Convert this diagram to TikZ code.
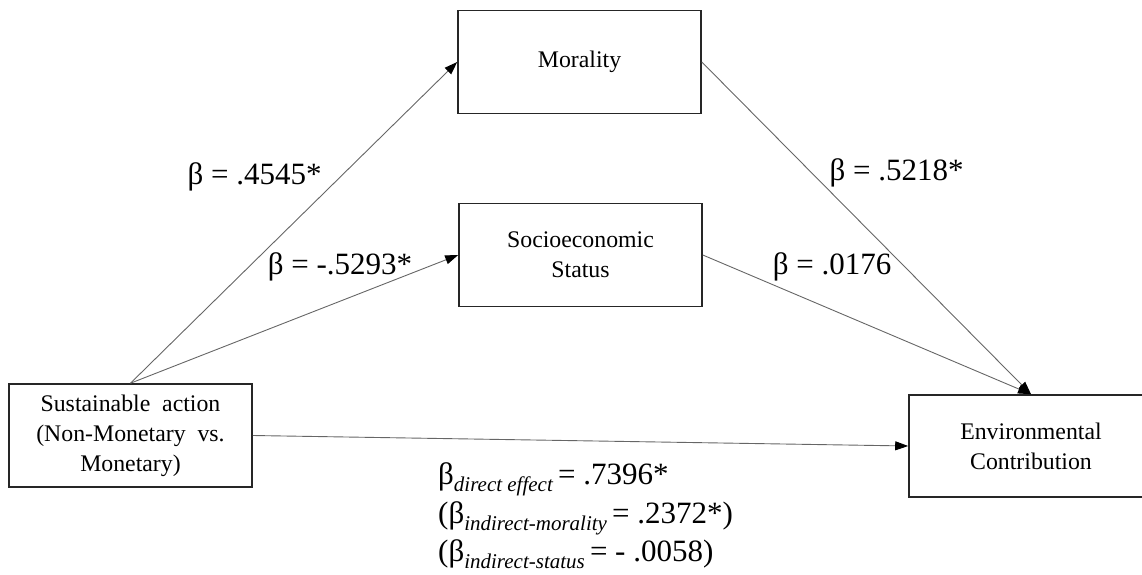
\documentclass[tikz,border=0pt]{standalone}
\usepackage{fontspec}
\setmainfont{Liberation Serif}
\usetikzlibrary{arrows.meta}
\newcommand{\mysub}[1]{\raisebox{-0.24em}{\fontsize{21}{21}\selectfont\itshape #1}}
\tikzset{
  box/.style={draw=black!85, line width=1.6pt, minimum width=243pt, minimum height=103pt,
    inner sep=0pt, align=center, font=\fontsize{23.8}{30}\selectfont},
  conn/.style={draw=black!60, line width=0.9pt,
    -{Triangle[length=13pt,width=9pt,color=black]}},
  lab/.style={font=\fontsize{31}{36}\selectfont, inner sep=0pt},
  bot/.style={font=\fontsize{31}{36}\selectfont, inner sep=0pt, anchor=base west}
}
\begin{document}
\begin{tikzpicture}[x=1pt,y=-1pt]
\useasboundingbox (0,0) rectangle (1142,575);
\node[box] (mor) at (579.5,62) {Morality};
\node[box] (ses) at (580.5,255) {Socioeconomic\\Status};
\node[box] (sa) at (130.5,435.5) {Sustainable\ \ action\\(Non-Monetary\ \ vs.\\Monetary)};
\node[box, minimum width=244pt, minimum height=102pt] (env) at (1031,446) {Environmental\\Contribution};

\draw[conn] (sa.north) -- (mor.west);
\draw[conn] (sa.north) -- (ses.west);
\draw[conn] (sa.east) -- (env.west);
\draw[conn] (mor.east) -- (env.north);
\draw[conn] (ses.east) -- (env.north);

\node[lab] (l1) at (254.5,177) {β = .4545*};
\node[lab] (l2) at (340,267) {β = -.5293*};
\node[lab] (l3) at (896.5,173) {β = .5218*};
\node[lab] (l4) at (832,267) {β = .0176};

\node[bot] (b1) at (438,484) {β\mysub{direct effect}\,= .7396*};
\node[bot] (b2) at (438,523) {(β\mysub{indirect-morality}\,= .2372*)};
\node[bot] (b3) at (438,561) {(β\mysub{indirect-status}\,= - .0058)};
\end{tikzpicture}
\end{document}
